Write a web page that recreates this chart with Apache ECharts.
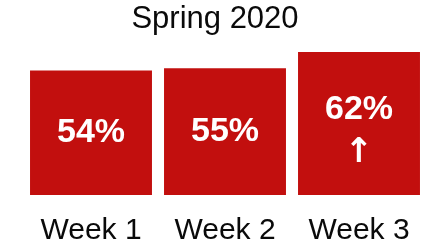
<!DOCTYPE html>
<html>
<head>
<meta charset="utf-8">
<script src="https://cdn.jsdelivr.net/npm/echarts@6/dist/echarts.min.js"></script>
<style>
  html, body { margin: 0; padding: 0; background: #fff; }
  #chart { width: 430px; height: 248px; }
</style>
</head>
<body>
<div id="chart"></div>
<script>
var title = 'Spring 2020';
var categories = ['Week 1', 'Week 2', 'Week 3'];
var values = [54, 55, 62];
var marks = ['', '', '↑'];   // trend arrow under the label

var myChart = echarts.init(document.getElementById('chart'));

var barData = values.map(function (v, i) {
  var item = { value: v };
  if (marks[i]) {
    item.label = {
      formatter: function (p) {
        return '{v|' + p.value + '%}\n{m|' + marks[p.dataIndex] + '}';
      },
      offset: [0, 10]
    };
  }
  return item;
});

myChart.setOption({
  animation: false,
  title: {
    text: title,
    left: 'center',
    top: 4,
    padding: 0,
    textStyle: {
      fontFamily: 'Liberation Sans',
      fontSize: 31,
      fontWeight: 'normal',
      color: '#0a0a0a'
    }
  },
  grid: {
    left: 24,
    right: 4,
    top: 52,
    bottom: 53
  },
  xAxis: {
    type: 'category',
    data: categories,
    axisLine: { show: false },
    axisTick: { show: false },
    axisLabel: {
      margin: 21,
      fontFamily: 'Liberation Sans',
      fontSize: 30,
      color: '#0a0a0a'
    }
  },
  yAxis: {
    type: 'value',
    min: 0,
    max: 62,
    show: false
  },
  series: [{
    type: 'bar',
    data: barData,
    barCategoryGap: '9%',
    itemStyle: { color: '#c20f0e' },
    label: {
      show: true,
      position: 'inside',
      formatter: '{c}%',
      fontFamily: 'Liberation Sans',
      fontSize: 34,
      fontWeight: 'bold',
      color: '#fff',
      rich: {
        v: {
          fontFamily: 'Liberation Sans',
          fontSize: 34,
          fontWeight: 'bold',
          color: '#fff',
          lineHeight: 40
        },
        m: {
          fontFamily: 'DejaVu Sans',
          fontSize: 34,
          color: '#fff',
          lineHeight: 48
        }
      }
    }
  }]
});
</script>
</body>
</html>
